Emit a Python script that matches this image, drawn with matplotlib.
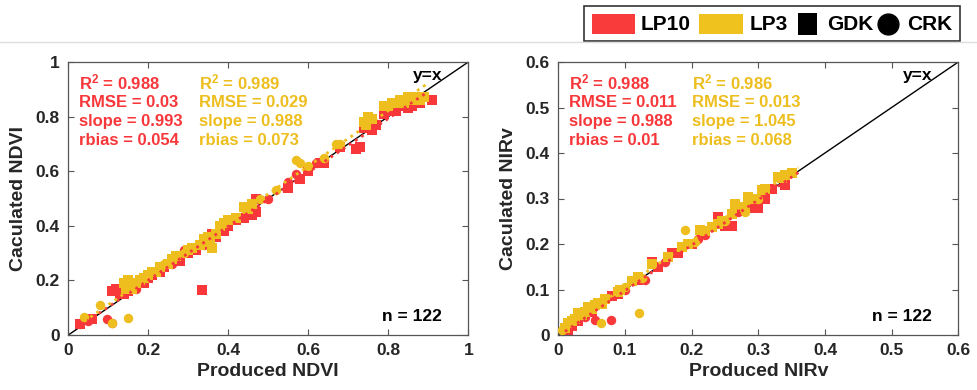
import numpy as np
import matplotlib
matplotlib.use("Agg")
import matplotlib.pyplot as plt
from matplotlib.patches import Rectangle
from matplotlib.lines import Line2D

plt.rcParams['font.family'] = ['Liberation Sans', 'DejaVu Sans']
plt.rcParams['font.weight'] = 'bold'
plt.rcParams['mathtext.fontset'] = 'custom'
plt.rcParams['mathtext.rm'] = 'Liberation Sans:bold'
plt.rcParams['mathtext.bf'] = 'Liberation Sans:bold'
plt.rcParams['mathtext.default'] = 'bf'

RED = '#F8373A'
YEL = '#EDBE1E'

# ---------------- NDVI panel data ----------------
ndvi_lp10_gdk_x = [0.03, 0.06, 0.11, 0.12, 0.13, 0.14, 0.15, 0.16, 0.17, 0.18, 0.19, 0.20, 0.21, 0.22, 0.23,
                   0.24, 0.25, 0.26, 0.27, 0.27, 0.28, 0.30, 0.31, 0.32, 0.335, 0.35, 0.36, 0.37, 0.38, 0.39,
                   0.40, 0.41, 0.42, 0.44, 0.45, 0.46, 0.47, 0.47, 0.55, 0.58, 0.60, 0.63, 0.64, 0.68, 0.72,
                   0.73, 0.74, 0.75, 0.76, 0.77, 0.79, 0.80, 0.81, 0.82, 0.83, 0.85, 0.86, 0.88, 0.91]
ndvi_lp10_gdk_y = [0.04, 0.06, 0.16, 0.17, 0.15, 0.15, 0.16, 0.17, 0.18, 0.19, 0.19, 0.21, 0.22, 0.23, 0.23,
                   0.25, 0.26, 0.27, 0.27, 0.29, 0.27, 0.30, 0.31, 0.31, 0.165, 0.34, 0.37, 0.36, 0.39, 0.38,
                   0.40, 0.42, 0.42, 0.43, 0.44, 0.44, 0.45, 0.50, 0.54, 0.57, 0.60, 0.63, 0.63, 0.69, 0.68,
                   0.69, 0.76, 0.77, 0.75, 0.77, 0.81, 0.82, 0.83, 0.82, 0.84, 0.83, 0.84, 0.85, 0.86]
ndvi_lp10_crk_x = [0.03, 0.05, 0.096, 0.108, 0.17, 0.26, 0.29, 0.34, 0.50, 0.55, 0.57, 0.62, 0.64]
ndvi_lp10_crk_y = [0.04, 0.05, 0.057, 0.043, 0.17, 0.26, 0.31, 0.33, 0.50, 0.56, 0.59, 0.63, 0.64]
ndvi_lp3_gdk_x = [0.14, 0.145, 0.15, 0.155, 0.16, 0.17, 0.18, 0.19, 0.20, 0.21, 0.22, 0.23, 0.25, 0.26, 0.27,
                  0.30, 0.31, 0.33, 0.34, 0.35, 0.355, 0.36, 0.37, 0.38, 0.39, 0.40, 0.42, 0.44, 0.45, 0.46,
                  0.74, 0.745, 0.75, 0.76, 0.79, 0.80, 0.81, 0.82, 0.83, 0.84, 0.85, 0.86, 0.87, 0.88, 0.89]
ndvi_lp3_gdk_y = [0.19, 0.17, 0.20, 0.18, 0.17, 0.19, 0.20, 0.21, 0.22, 0.23, 0.23, 0.25, 0.26, 0.28, 0.29,
                  0.31, 0.32, 0.33, 0.35, 0.36, 0.34, 0.32, 0.37, 0.40, 0.41, 0.42, 0.43, 0.47, 0.46, 0.48,
                  0.78, 0.77, 0.80, 0.79, 0.84, 0.84, 0.85, 0.85, 0.86, 0.85, 0.87, 0.86, 0.87, 0.86, 0.87]
ndvi_lp3_crk_x = [0.04, 0.079, 0.108, 0.15, 0.15, 0.19, 0.24, 0.29, 0.35, 0.39, 0.48, 0.52, 0.57, 0.58, 0.60,
                  0.64, 0.67, 0.68]
ndvi_lp3_crk_y = [0.065, 0.11, 0.043, 0.061, 0.18, 0.21, 0.26, 0.30, 0.35, 0.41, 0.50, 0.53, 0.64, 0.63, 0.62,
                  0.65, 0.70, 0.70]
ndvi_stats_lp10 = ['R$^{2}$ = 0.988', 'RMSE = 0.03', 'slope = 0.993', 'rbias = 0.054']
ndvi_stats_lp3 = ['R$^{2}$ = 0.989', 'RMSE = 0.029', 'slope = 0.988', 'rbias = 0.073']

# ---------------- NIRv panel data ----------------
nirv_lp10_gdk_x = [0.015, 0.02, 0.03, 0.05, 0.07, 0.08, 0.09, 0.12, 0.14, 0.15, 0.17, 0.18, 0.20, 0.24, 0.245,
                   0.25, 0.26, 0.27, 0.29, 0.30, 0.31, 0.32, 0.34]
nirv_lp10_gdk_y = [0.004, 0.02, 0.03, 0.05, 0.08, 0.085, 0.09, 0.12, 0.16, 0.15, 0.18, 0.18, 0.20, 0.26, 0.25,
                   0.24, 0.24, 0.28, 0.28, 0.28, 0.30, 0.32, 0.33]
nirv_lp10_crk_x = [0.01, 0.04, 0.055, 0.0785, 0.10, 0.13, 0.16, 0.21, 0.22, 0.27]
nirv_lp10_crk_y = [0.01, 0.04, 0.034, 0.034, 0.10, 0.12, 0.16, 0.21, 0.22, 0.27]
nirv_lp3_gdk_x = [0.01, 0.015, 0.02, 0.025, 0.03, 0.035, 0.04, 0.045, 0.05, 0.055, 0.06, 0.065, 0.07, 0.09,
                  0.0925, 0.11, 0.12, 0.14, 0.165, 0.185, 0.195, 0.2125, 0.22, 0.23, 0.24, 0.245, 0.26, 0.265,
                  0.28, 0.285, 0.29, 0.305, 0.31, 0.33, 0.335, 0.34, 0.35]
nirv_lp3_gdk_y = [0.015, 0.026, 0.03, 0.035, 0.048, 0.045, 0.05, 0.062, 0.058, 0.065, 0.07, 0.068, 0.08, 0.095,
                  0.099, 0.118, 0.128, 0.157, 0.172, 0.194, 0.20, 0.231, 0.228, 0.238, 0.245, 0.25, 0.267, 0.289,
                  0.282, 0.304, 0.30, 0.319, 0.32, 0.348, 0.345, 0.352, 0.355]
nirv_lp3_crk_x = [0.005, 0.02, 0.035, 0.0635, 0.065, 0.1, 0.121, 0.125, 0.19, 0.205, 0.25, 0.28, 0.30]
nirv_lp3_crk_y = [0.01, 0.03, 0.045, 0.026, 0.075, 0.105, 0.049, 0.125, 0.23, 0.205, 0.25, 0.27, 0.30]
nirv_stats_lp10 = ['R$^{2}$ = 0.988', 'RMSE = 0.011', 'slope = 0.988', 'rbias = 0.01']
nirv_stats_lp3 = ['R$^{2}$ = 0.986', 'RMSE = 0.013', 'slope = 1.045', 'rbias = 0.068']

n_label = 'n = 122'

fig = plt.figure(figsize=(9.78, 3.90), dpi=100)
W, H = 978, 390

def ax_rect(x0, x1, y0, y1):
    return [x0 / W, 1 - y1 / H, (x1 - x0) / W, (y1 - y0) / H]

ax1 = fig.add_axes(ax_rect(68.3, 468.3, 62, 335))
ax2 = fig.add_axes(ax_rect(558.3, 958.3, 62, 335))

MS = 42

def panel(ax, lim, ticks, r_sx, r_sy, r_cx, r_cy, y_sx, y_sy, y_cx, y_cy, st10, st3, xlabel, ylabel, fit_hi):
    ax.plot([0, lim], [0, lim], color='black', lw=1.0, zorder=1)
    ax.scatter(r_sx, r_sy, marker='s', s=MS, color=RED, linewidths=0, zorder=2)
    ax.scatter(r_cx, r_cy, marker='o', s=MS * 1.1, color=RED, linewidths=0, zorder=2)
    ax.scatter(y_sx, y_sy, marker='s', s=MS, color=YEL, linewidths=0, zorder=3)
    ax.scatter(y_cx, y_cy, marker='o', s=MS * 1.1, color=YEL, linewidths=0, zorder=3)
    for xs, ys, c in [(list(r_sx) + list(r_cx), list(r_sy) + list(r_cy), RED),
                      (list(y_sx) + list(y_cx), list(y_sy) + list(y_cy), YEL)]:
        k, b = np.polyfit(xs, ys, 1)
        xx = np.array([min(xs), fit_hi])
        ax.plot(xx, k * xx + b, ls=':', color=c, lw=2.0, zorder=4)
    ax.set_xlim(0, lim)
    ax.set_ylim(0, lim)
    ax.set_xticks(ticks)
    ax.set_yticks(ticks)
    ax.set_xticklabels([('%g' % t) for t in ticks])
    ax.set_yticklabels([('%g' % t) for t in ticks])
    ax.tick_params(direction='in', top=True, right=True, length=4, width=0.8,
                   labelsize=12.5, colors='#555555', labelcolor='#262626', pad=6)
    for sp in ax.spines.values():
        sp.set_color('#555555')
        sp.set_linewidth(0.9)
    ax.set_xlabel(xlabel, fontsize=14, fontweight='bold', color='#262626', labelpad=3)
    ax.set_ylabel(ylabel, fontsize=14, fontweight='bold', color='#262626', labelpad=6)
    ys_ = [0.926, 0.853, 0.782, 0.711]
    for t, yy in zip(st10, ys_):
        ax.text(0.027, yy, t, transform=ax.transAxes, color=RED, fontsize=12,
                fontweight='bold', va='center', ha='left')
    xs3 = 0.3275 if lim == 1 else 0.335
    for t, yy in zip(st3, ys_):
        ax.text(xs3, yy, t, transform=ax.transAxes, color=YEL, fontsize=12,
                fontweight='bold', va='center', ha='left')
    ax.text(0.934, 0.952, 'y=x', transform=ax.transAxes, color='black', fontsize=12.5,
            fontweight='bold', va='center', ha='right')
    ax.text(0.934, 0.067, n_label, transform=ax.transAxes, color='black', fontsize=12.5,
            fontweight='bold', va='center', ha='right')

panel(ax1, 1.0, [0, 0.2, 0.4, 0.6, 0.8, 1],
      ndvi_lp10_gdk_x, ndvi_lp10_gdk_y, ndvi_lp10_crk_x, ndvi_lp10_crk_y,
      ndvi_lp3_gdk_x, ndvi_lp3_gdk_y, ndvi_lp3_crk_x, ndvi_lp3_crk_y,
      ndvi_stats_lp10, ndvi_stats_lp3, 'Produced NDVI', 'Caculated NDVI', 0.9)
panel(ax2, 0.6, [0, 0.1, 0.2, 0.3, 0.4, 0.5, 0.6],
      nirv_lp10_gdk_x, nirv_lp10_gdk_y, nirv_lp10_crk_x, nirv_lp10_crk_y,
      nirv_lp3_gdk_x, nirv_lp3_gdk_y, nirv_lp3_crk_x, nirv_lp3_crk_y,
      nirv_stats_lp10, nirv_stats_lp3, 'Produced NIRv', 'Caculated NIRv', 0.36)

# separator line
fig.add_artist(Line2D([0, 1], [1 - 42 / H, 1 - 42 / H], transform=fig.transFigure,
                      color='#dddddd', lw=1.0))

# legend (manual, figure pixel coords)
def fx(px):
    return px / W
def fy(py):
    return 1 - py / H

fig.add_artist(Rectangle((fx(584), fy(40.5)), fx(960) - fx(584), fy(6) - fy(40.5),
                         transform=fig.transFigure, facecolor='white', edgecolor='#333333', lw=1.2))
fig.add_artist(Rectangle((fx(592), fy(34)), fx(635) - fx(592), fy(14) - fy(34),
                         transform=fig.transFigure, facecolor='#F93B3B', edgecolor='none'))
fig.text(fx(641), fy(24), 'LP10', fontsize=15, fontweight='bold', va='center', ha='left')
fig.add_artist(Rectangle((fx(699), fy(34)), fx(743) - fx(699), fy(14) - fy(34),
                         transform=fig.transFigure, facecolor='#F0C21E', edgecolor='none'))
fig.text(fx(750), fy(24), 'LP3', fontsize=15, fontweight='bold', va='center', ha='left')
fig.add_artist(Rectangle((fx(798), fy(35)), fx(817) - fx(798), fy(13) - fy(35),
                         transform=fig.transFigure, facecolor='black', edgecolor='none'))
fig.text(fx(827), fy(24), 'GDK', fontsize=15, fontweight='bold', va='center', ha='left')
fig.add_artist(Line2D([fx(888)], [fy(24)], transform=fig.transFigure, marker='o',
                      markersize=15, color='black', linestyle='none'))
fig.text(fx(907), fy(24), 'CRK', fontsize=15, fontweight='bold', va='center', ha='left')

fig.savefig('out.png', dpi=100)
